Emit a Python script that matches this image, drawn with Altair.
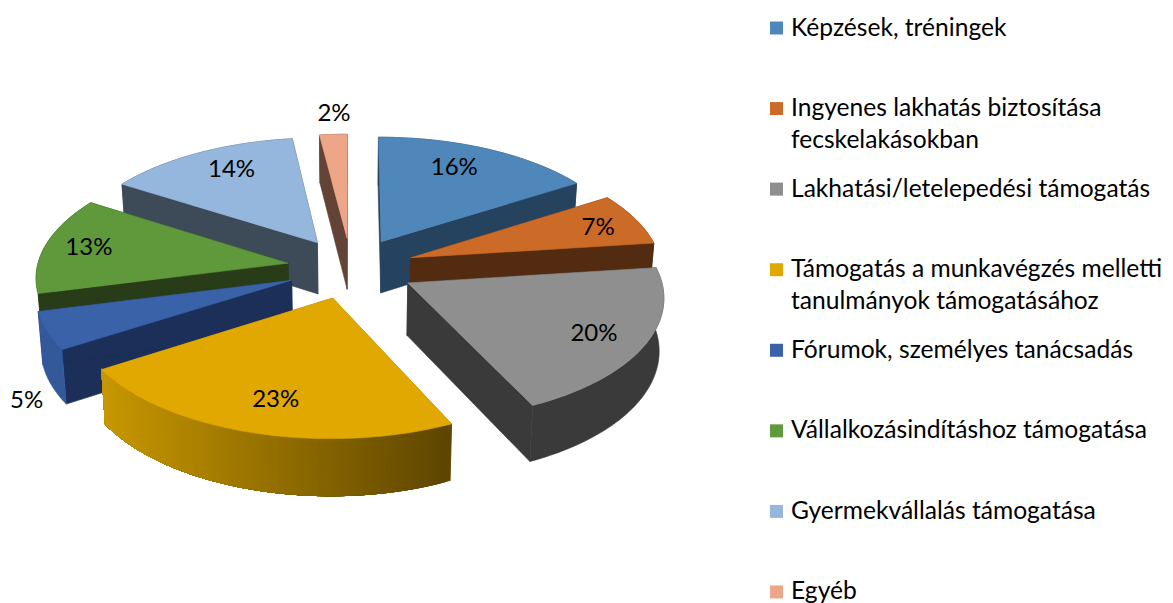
import math
import altair as alt

LABELS = ["Képzések, tréningek", "Ingyenes lakhatás biztosítása|fecskelakásokban",
          "Lakhatási/letelepedési támogatás", "Támogatás a munkavégzés melletti|tanulmányok támogatásához",
          "Fórumok, személyes tanácsadás", "Vállalkozásindításhoz támogatása",
          "Gyermekvállalás támogatása", "Egyéb"]
VALUES = [16, 7, 20, 23, 5, 13, 14, 2]
TOP_COLORS = ["#4F87BA", "#CC6B27", "#8F8F8F", "#E0A800", "#3A62A8", "#60983C", "#95B6DD", "#EDA687"]
WALL_COLORS = ["#25425E", "#532B10", "#3A3A3A", "#8C6900", "#1B2F58", "#283C18", "#3D4B59", "#634336"]
RIM_COLORS = ["#25425E", "#532B10", "#3A3A3A", None, "#33599B", "#283C18", "#3D4B59", "#634336"]
LABEL_RADIUS = [0.76, 0.82, 0.80, 0.77, 1.29, 0.82, 0.775, 1.22]
LABEL_TURN = [-3.4, 1.5, 1, -1.2, -20.5, 0, 2.9, 0.7]
PAINT_ORDER = [7, 0, 6, 1, 5, 2, 4, 3]

# view of the tilted, exploded pie
CX, CY, RX, RY, PERSP, EXPLODE, DEPTH = 351, 268, 251, 120, 0.1, 0.255, 52
FONT = "Lato"


def top(X, Y):
    w = 1 + PERSP * Y
    return CX + RX * X / w, CY - RY * Y / w


def low(p):
    return CX + (p[0] - CX) * 0.985, CY + DEPTH + (p[1] - CY) * 1.03


def mix(a, b, t):
    ca = [int(a[i:i + 2], 16) for i in (1, 3, 5)]
    cb = [int(b[i:i + 2], 16) for i in (1, 3, 5)]
    return "#%02x%02x%02x" % tuple(round(x + (y - x) * t) for x, y in zip(ca, cb))


def poly(points, color):
    ring = [list(p) for p in points] + [list(points[0])]
    return {"type": "Feature", "geometry": {"type": "Polygon", "coordinates": [ring]},
            "properties": {"fill": color}}


features, pct_rows = [], []
starts = [sum(VALUES[:i]) * 3.6 for i in range(len(VALUES))]
for i in PAINT_ORDER:
    a0, a1 = starts[i], starts[i] + VALUES[i] * 3.6
    mid = math.radians((a0 + a1) / 2)
    ex, ey = EXPLODE * math.sin(mid), EXPLODE * math.cos(mid)
    steps = max(2, round(a1 - a0))
    angles = [math.radians(a0 + (a1 - a0) * k / steps) for k in range(steps + 1)]
    rim = [top(ex + math.sin(a), ey + math.cos(a)) for a in angles]
    apex = top(ex, ey)
    radial = [poly([apex, rim[0], low(rim[0]), low(apex)], WALL_COLORS[i]),
              poly([apex, rim[-1], low(rim[-1]), low(apex)], WALL_COLORS[i])]
    rim_faces = []
    if RIM_COLORS[i] is None:
        # shaded band: each step overlays the rest of the rim, so no seams show
        for k in range(steps):
            t = min(1, max(0, ((rim[k][0] + rim[k + 1][0]) / 2 - 102) / 353))
            part = rim[k:]
            rim_faces.append(poly(part + [low(p) for p in reversed(part)], mix("#C79700", "#5C4400", t)))
    else:
        rim_faces.append(poly(rim + [low(p) for p in reversed(rim)], RIM_COLORS[i]))
    features += (rim_faces + radial) if math.cos(mid) > 0 else (radial + rim_faces)
    features.append(poly([apex] + rim, TOP_COLORS[i]))

for i, v in enumerate(VALUES):
    mid = math.radians(starts[i] + v * 1.8)
    lab = math.radians(starts[i] + v * 1.8 + LABEL_TURN[i])
    x, y = top(EXPLODE * math.sin(mid) + LABEL_RADIUS[i] * math.sin(lab),
               EXPLODE * math.cos(mid) + LABEL_RADIUS[i] * math.cos(lab))
    pct_rows.append({"lon": x, "lat": y, "text": f"{v}%"})

LEG_TOP, LEG_STEP = 28, 80.57
legend_rows = [{"lon": 776.5, "lat": LEG_TOP + i * LEG_STEP, "tx": 791, "ty": LEG_TOP + i * LEG_STEP + 7.5,
                "label": l, "fill": c} for i, (l, c) in enumerate(zip(LABELS, TOP_COLORS))]

shapes = alt.Chart(alt.Data(values=features)).mark_geoshape(strokeWidth=0.6).encode(
    fill=alt.Fill("properties.fill:N", scale=None),
    stroke=alt.Stroke("properties.fill:N", scale=None),
)
pcts = alt.Chart(alt.Data(values=pct_rows)).mark_text(font=FONT, fontSize=24, color="#000000").encode(
    longitude="lon:Q", latitude="lat:Q", text="text:N")
squares = alt.Chart(alt.Data(values=legend_rows)).mark_square(size=169, opacity=1).encode(
    longitude="lon:Q", latitude="lat:Q", fill=alt.Fill("fill:N", scale=None))
texts = alt.Chart(alt.Data(values=legend_rows)).mark_text(
    font=FONT, fontSize=24.6, color="#000000", align="left", baseline="alphabetic",
    lineBreak="|", lineHeight=32).encode(
    longitude="tx:Q", latitude="ty:Q", text="label:N")

chart = (alt.layer(shapes, pcts, squares, texts)
         .project(type="identity", scale=1, translate=[-8, -8])
         .resolve_scale(fill="independent", stroke="independent")
         .properties(width=1157, height=595, padding=0, autosize=alt.AutoSizeParams(type="none"))
         .configure_view(stroke=None)
         .configure(background="#ffffff"))
chart.save("out.html", embed_options={"renderer": "svg", "actions": False})
